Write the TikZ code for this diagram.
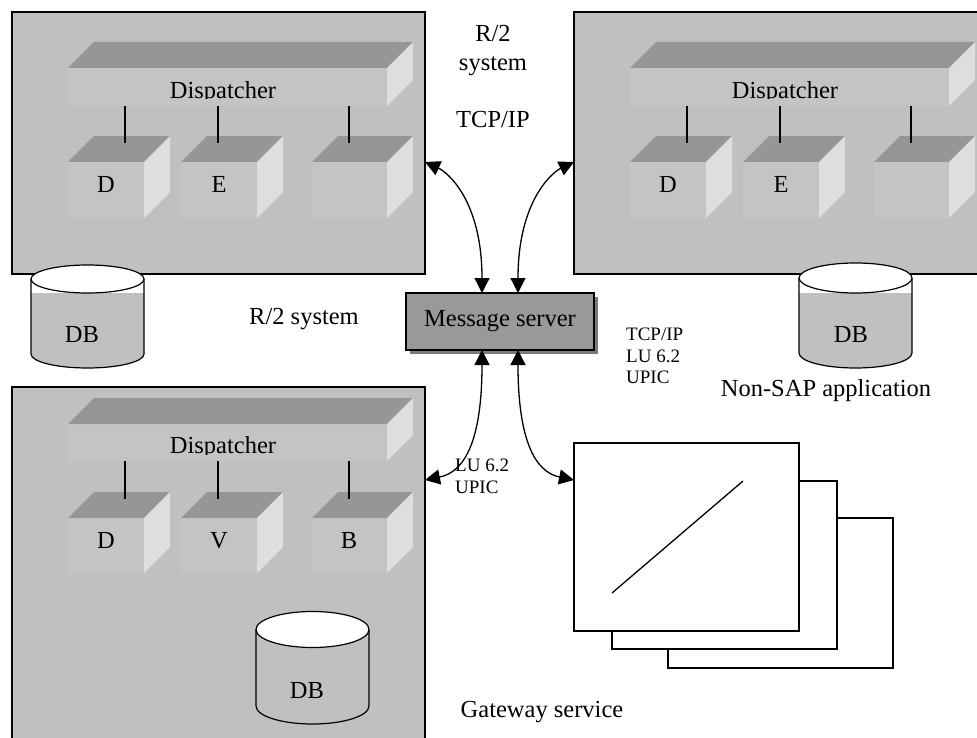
\documentclass[tikz,border=0pt]{standalone}
\usepackage{fontspec}
\setmainfont{Liberation Serif}
\usetikzlibrary{arrows.meta,calc}
\definecolor{boxgray}{HTML}{C0C0C0}
\definecolor{frontgray}{HTML}{C4C4C4}
\definecolor{topgray}{HTML}{969696}
\definecolor{sidegray}{HTML}{DEDEDE}
\definecolor{msgray}{HTML}{999999}
\definecolor{shadowgray}{HTML}{7A7A7A}
\newcommand\boxcube[4]{%
  \fill[frontgray] (#1,#2) rectangle (#3,#4);
  \fill[topgray] (#1,#2) -- (#1+26,#2-26) -- (#3+26,#2-26) -- (#3,#2) -- cycle;
  \fill[sidegray] (#3,#2) -- (#3+26,#2-26) -- (#3+26,#4-26) -- (#3,#4) -- cycle;
}
% cx, ct, cb, rx, ry
\newcommand\dbcyl[5]{%
  \fill[boxgray] (#1-#4,#2+#5) -- (#1-#4,#3) arc[start angle=180,end angle=360,x radius=#4pt,y radius=#5pt] -- (#1+#4,#2+#5) -- cycle;
  \draw[outline] (#1-#4,#2) -- (#1-#4,#3) arc[start angle=180,end angle=360,x radius=#4pt,y radius=#5pt] -- (#1+#4,#2);
  \draw[outline,fill=white] (#1,#2) ellipse[x radius=#4pt,y radius=#5pt];
}
\begin{document}
\begin{tikzpicture}[x=1pt,y=-1pt,
  outline/.style={draw=black,line width=1.2pt},
  sysbox/.style={draw=black,line width=1.3pt,fill=boxgray,anchor=north west,inner sep=0pt,outer sep=0pt},
  big/.style={font=\fontsize{24.5}{28}\selectfont,inner sep=0pt},
  small/.style={font=\fontsize{19}{21.5}\selectfont,inner sep=0pt},
  conn/.style={line width=1.3pt},
  arr/.style={{Triangle[length=15pt,width=15pt]}-{Triangle[length=15pt,width=15pt]},line width=1.3pt},
  gwbox/.style={draw=black,line width=1.3pt,fill=white,anchor=north west,inner sep=0pt,outer sep=0pt},
  msbox/.style={draw=black,line width=1.3pt,fill=msgray,inner sep=0pt,outer sep=0pt,minimum width=188pt,minimum height=57pt,font=\fontsize{24.5}{28}\selectfont}
]
\clip (0,0) rectangle (977,738);
\fill[white] (0,0) rectangle (977,738);

% ---------- top-left R/2 system ----------
\node[sysbox,minimum width=413pt,minimum height=262pt] (sys1) at (12,12) {};
\boxcube{68}{68}{387}{106}
\begin{scope}
  \clip (68,68) rectangle (387,99);
  \node[big,anchor=base] (disp1) at (223,98.5) {Dispatcher};
\end{scope}
\boxcube{68}{162}{144}{218}
\boxcube{181}{162}{257}{218}
\boxcube{312}{162}{387}{218}
\draw[conn] (125,106) -- (125,143);
\draw[conn] (218,106) -- (218,143);
\draw[conn] (349,106) -- (349,143);
\node[big,anchor=base] (d1) at (106,193) {D};
\node[big,anchor=base] (e1) at (219,193) {E};

% ---------- top-right Non-SAP application ----------
\node[sysbox,minimum width=413pt,minimum height=262pt] (sys2) at (574,12) {};
\boxcube{630}{68}{949}{106}
\begin{scope}
  \clip (630,68) rectangle (949,99);
  \node[big,anchor=base] (disp2) at (785,98.5) {Dispatcher};
\end{scope}
\boxcube{630}{162}{706}{218}
\boxcube{743}{162}{819}{218}
\boxcube{874}{162}{949}{218}
\draw[conn] (687,106) -- (687,143);
\draw[conn] (780,106) -- (780,143);
\draw[conn] (911,106) -- (911,143);
\node[big,anchor=base] (d2) at (668,193) {D};
\node[big,anchor=base] (e2) at (781,193) {E};

% ---------- bottom-left R/2 system ----------
\node[sysbox,minimum width=413pt,minimum height=380pt] (sys3) at (12,387) {};
\boxcube{68}{424}{387}{461}
\begin{scope}
  \clip (68,424) rectangle (387,454);
  \node[big,anchor=base] (disp3) at (223,453.5) {Dispatcher};
\end{scope}
\boxcube{68}{518}{144}{573}
\boxcube{181}{518}{257}{573}
\boxcube{312}{518}{387}{573}
\draw[conn] (125,461) -- (125,499);
\draw[conn] (218,461) -- (218,499);
\draw[conn] (349,461) -- (349,499);
\node[big,anchor=base] (d3) at (106,548) {D};
\node[big,anchor=base] (v3) at (219,548) {V};
\node[big,anchor=base] (b3) at (349,548) {B};

% ---------- databases ----------
\dbcyl{87.5}{279}{354}{56.5}{14}
\node[big,anchor=base] (db1) at (82,342) {DB};
\dbcyl{855.5}{278}{353}{56.5}{15}
\node[big,anchor=base] (db2) at (851,342) {DB};
\dbcyl{312.5}{629.5}{706}{56.5}{18}
\node[big,anchor=base] (db3) at (307,698) {DB};

% ---------- gateway service ----------
\node[gwbox,minimum width=225pt,minimum height=150pt] (gw3) at (668,518) {};
\node[gwbox,minimum width=225pt,minimum height=168pt] (gw2) at (612,481) {};
\node[gwbox,minimum width=225pt,minimum height=188pt] (gw1) at (574,443) {};
\draw[conn] (612,593) -- (743,481);

% ---------- message server ----------
\fill[shadowgray] (410,297) rectangle (598,354);
\node[msbox] (ms) at (500,321.5) {Message server};

% ---------- connectors ----------
\coordinate (ms-n1) at ($(ms.north)+(-18,0)$);
\coordinate (ms-n2) at ($(ms.north)+(18,0)$);
\coordinate (ms-s1) at ($(ms.south)+(-18,0)$);
\coordinate (ms-s2) at ($(ms.south)+(18,0)$);
\coordinate (t-sys1) at (425,162);
\coordinate (t-sys2) at (574,162);
\coordinate (t-sys3) at (425,480);
\coordinate (t-gw) at (574,480);
\draw[arr] (ms-n1) .. controls (482,200) and (447,172) .. (t-sys1);
\draw[arr] (ms-n2) .. controls (518,200) and (553,172) .. (t-sys2);
\draw[arr] (ms-s1) .. controls (482,440) and (465,472) .. (t-sys3);
\draw[arr] (ms-s2) .. controls (518,440) and (535,472) .. (t-gw);

% ---------- labels ----------
\node[big,anchor=base] (l-r2a) at (493,42) {R/2};
\node[big,anchor=base] (l-r2b) at (493,71) {system};
\node[big,anchor=base] (l-tcp1) at (493,128) {TCP/IP};
\node[big,anchor=base] (l-r2c) at (304,324) {R/2 system};
\node[small,anchor=base west] (l-tcp2) at (626,340) {TCP/IP};
\node[small,anchor=base west] (l-lu1) at (626,362) {LU 6.2};
\node[small,anchor=base west] (l-upic1) at (626,383) {UPIC};
\node[big,anchor=base] (l-nonsap) at (826,396) {Non-SAP application};
\node[small,anchor=base west] (l-lu2) at (455,471) {LU 6.2};
\node[small,anchor=base west] (l-upic2) at (455,493) {UPIC};
\node[big,anchor=base] (l-gw) at (542,717) {Gateway service};
\end{tikzpicture}
\end{document}
